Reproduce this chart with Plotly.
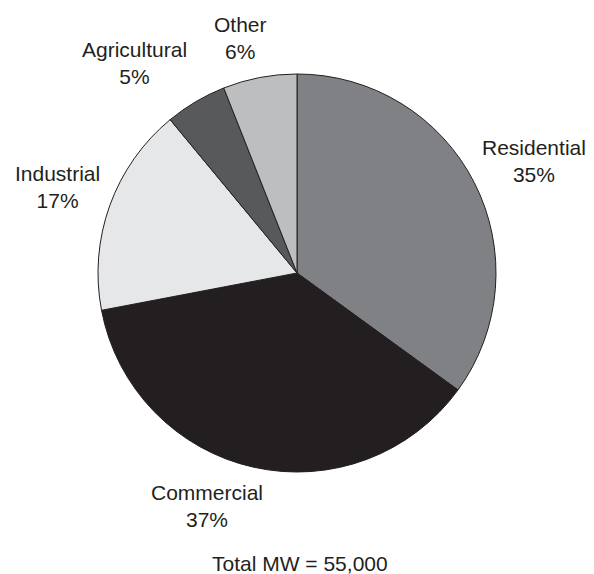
import plotly.graph_objects as go

# ---- data ----
sectors = ["Residential", "Commercial", "Industrial", "Agricultural", "Other"]
shares = [35, 37, 17, 5, 6]
total_mw = "55,000"

# ---- styles ----
colors = ["#808184", "#231f20", "#e6e7e8", "#58595b", "#bcbec0"]
OFF = 8                      # page body margin in the browser
W, H = 594 - OFF, 574 - OFF  # figure size so it fits the window
# label block centers in window pixels (layout only)
label_pos = {
    "Residential": (534, 161),
    "Commercial": (207, 506),
    "Industrial": (57, 187),
    "Agricultural": (134, 63),
    "Other": (240, 38),
}
font_family = "Liberation Sans, Arial, Helvetica, sans-serif"
ink = "#231f20"


def fx(px):
    return (px - OFF) / W


def fy(py):
    return 1 - (py - OFF) / H


fig = go.Figure(go.Pie(
    labels=sectors,
    values=shares,
    sort=False,
    direction="clockwise",
    rotation=0,
    marker=dict(colors=colors, line=dict(color=ink, width=1)),
    textinfo="none",
    hoverinfo="label+percent",
    domain=dict(x=[fx(98), fx(496)], y=[fy(472), fy(74)]),
))

annotations = []
for name, val in zip(sectors, shares):
    px, py = label_pos[name]
    annotations.append(dict(
        x=fx(px), y=fy(py), xref="paper", yref="paper",
        text=f"{name}<br>{val}%", showarrow=False,
        xanchor="center", yanchor="middle", align="center",
        font=dict(family=font_family, size=21, color=ink),
    ))
annotations.append(dict(
    x=fx(300), y=fy(563), xref="paper", yref="paper",
    text=f"Total MW = {total_mw}", showarrow=False,
    xanchor="center", yanchor="middle",
    font=dict(family=font_family, size=21, color=ink),
))

fig.update_layout(
    width=W, height=H,
    margin=dict(l=0, r=0, t=0, b=0),
    paper_bgcolor="white", plot_bgcolor="white",
    showlegend=False,
    annotations=annotations,
)

fig.write_html("out.html")
